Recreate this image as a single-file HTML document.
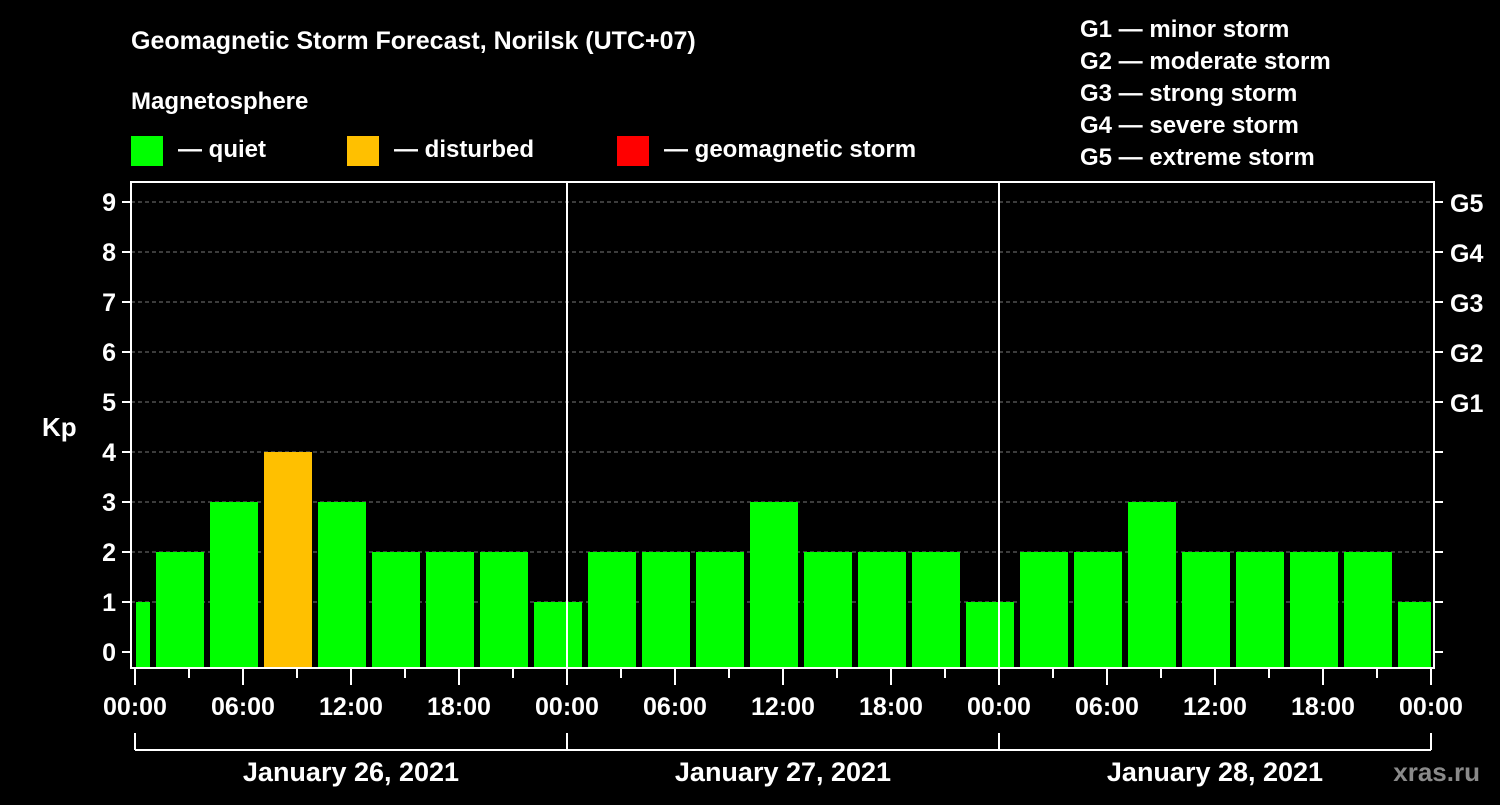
<!DOCTYPE html>
<html><head><meta charset="utf-8"><style>
body{margin:0;background:#000;width:1500px;height:800px;overflow:hidden}
svg text{font-family:"Liberation Sans",sans-serif;font-weight:bold;fill:#fff}
</style></head><body>
<svg id="chart" width="1500" height="800" xmlns="http://www.w3.org/2000/svg">
<rect width="1500" height="800" fill="#000"/>
<text x="131" y="49" font-size="25">Geomagnetic Storm Forecast, Norilsk (UTC+07)</text>
<text x="131" y="109" font-size="24">Magnetosphere</text>
<g><rect x="131" y="136" width="32" height="30" fill="#00ff00"/><text x="178" y="157" font-size="24">— quiet</text></g>
<g><rect x="347" y="136" width="32" height="30" fill="#ffc000"/><text x="394" y="157" font-size="24">— disturbed</text></g>
<g><rect x="617" y="136" width="32" height="30" fill="#ff0000"/><text x="664" y="157" font-size="24">— geomagnetic storm</text></g>
<g font-size="24">
<text x="1080" y="37">G1 — minor storm</text>
<text x="1080" y="69">G2 — moderate storm</text>
<text x="1080" y="101">G3 — strong storm</text>
<text x="1080" y="133">G4 — severe storm</text>
<text x="1080" y="165">G5 — extreme storm</text>
</g>
<text x="42" y="436" font-size="26">Kp</text>
<g id="grid"></g><g id="bars"></g><g id="axes"></g>
<text x="1590" y="781" font-size="26" fill="#888" style="fill:#8a8a8a" text-anchor="end" transform="translate(-110,0)">xras.ru</text>
</svg>
<script>
const kpValues=[1,2,3,4,3,2,2,2,1,2,2,2,3,2,2,2,1,2,2,3,2,2,2,2,1];
const yTicks=[0,1,2,3,4,5,6,7,8,9];
const gLabels=["G1","G2","G3","G4","G5"];
const xTickLabels=["00:00","06:00","12:00","18:00"];
const dayLabels=["January 26, 2021","January 27, 2021","January 28, 2021"];
const NS="http://www.w3.org/2000/svg";
const x0=135,pxH=18,L=131,R=1434,T=182,B=668;
const x=h=>x0+h*pxH, y=v=>652-v*50;
function mk(p,tag,a){const e=document.createElementNS(NS,tag);for(const k in a)e.setAttribute(k,a[k]);p.appendChild(e);return e;}
const grid=document.getElementById('grid'),bars=document.getElementById('bars'),axes=document.getElementById('axes');
yTicks.slice(1).forEach(v=>{const l=mk(grid,'line',{x1:L,x2:R,y1:y(v),y2:y(v),stroke:'#777','stroke-dasharray':'4,3','stroke-width':1});

});
kpValues.forEach((v,i)=>{let h0=-2+3*i,h1=h0+3;let a=x(h0)+3,b=x(h1)-3;a=Math.max(a,136);b=Math.min(b,R-3);
const c=v>=5?'#ff0000':(v>=4?'#ffc000':'#00ff00');
const r=mk(bars,'rect',{x:a,y:y(v),width:b-a,height:B-y(v),fill:c});

});
const fr=mk(axes,'rect',{x:L,y:T,width:R-L,height:B-T,fill:'none',stroke:'#fff','stroke-width':2});


[1,2].forEach(d=>{const l=mk(axes,'line',{x1:x(24*d),x2:x(24*d),y1:T,y2:B,stroke:'#fff','stroke-width':2});

});
yTicks.forEach(v=>{mk(axes,'line',{x1:122,x2:L,y1:y(v),y2:y(v),stroke:'#fff','stroke-width':2});
mk(axes,'line',{x1:R,x2:R+9,y1:y(v),y2:y(v),stroke:'#fff','stroke-width':2});
const t=mk(axes,'text',{x:116,y:y(v)+9,'font-size':25,'text-anchor':'end'});t.textContent=v;


if(v>=5){const g=mk(axes,'text',{x:1450,y:y(v)+10,'font-size':25});g.textContent=gLabels[v-5];

}});
for(let h=0;h<=72;h+=3){const maj=h%6==0;mk(axes,'line',{x1:x(h),x2:x(h),y1:B,y2:maj?685:678,stroke:'#fff','stroke-width':2});
if(maj&&(h%24==0||true)&&h%6==0){const lbl=xTickLabels[(h%24)/6];if(lbl&&(h%24!=0||true)){
const t=mk(axes,'text',{x:x(h),y:715,'font-size':25,'text-anchor':'middle'});t.textContent=lbl;

}}}
mk(axes,'line',{x1:x(0),x2:x(72),y1:750,y2:750,stroke:'#fff','stroke-width':2});
[0,1,2,3].forEach(d=>mk(axes,'line',{x1:x(24*d),x2:x(24*d),y1:733,y2:750,stroke:'#fff','stroke-width':2}));
dayLabels.forEach((s,d)=>{const t=mk(axes,'text',{x:x(24*d+12),y:781,'font-size':27,'text-anchor':'middle'});t.textContent=s;

});
</script>
</body></html>
